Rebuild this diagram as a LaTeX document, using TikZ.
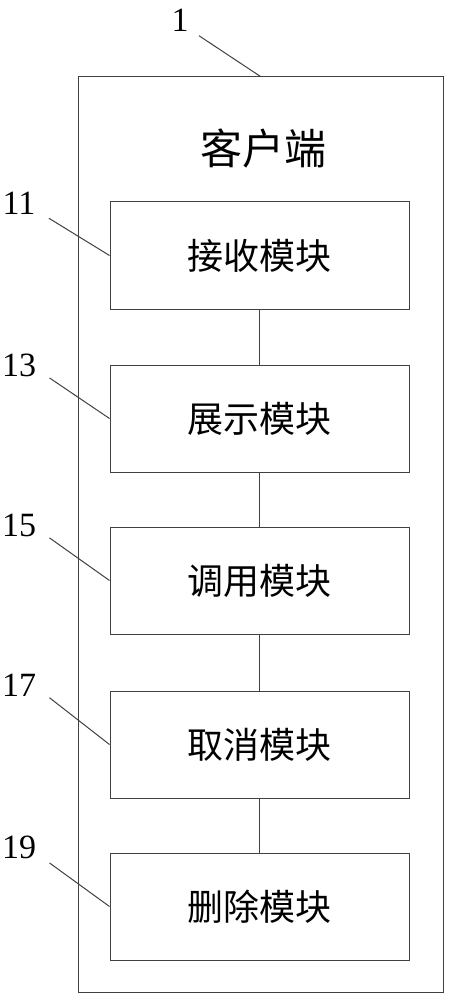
\documentclass[tikz,border=0pt]{standalone}
\usepackage{fontspec}
\setmainfont{Liberation Serif}
\newfontfamily\cjk{Noto Sans CJK SC}
\usetikzlibrary{positioning}

\begin{document}
\begin{tikzpicture}[x=1pt,y=-1pt,line width=1pt,draw=black!75,
  framenode/.style={rectangle,draw,inner sep=0pt,minimum width=365pt,minimum height=915pt},
  modnode/.style={rectangle,draw,inner sep=0pt,minimum width=299pt,minimum height=107pt,font=\cjk\fontsize{36}{40}\selectfont},
  titlenode/.style={inner sep=0pt,font=\cjk\fontsize{42}{46}\selectfont},
  numnode/.style={inner sep=0pt,font=\fontsize{34}{38}\selectfont}]

\useasboundingbox (0,0) rectangle (448,1000);

\node [framenode] (client) at (260.5,534.5) {};
\node [titlenode] (title) at (263,148) {客户端};

\node [modnode] (m11) at (259.5,255.5) {接收模块};
\node [modnode] (m13) at (259.5,418.5) {展示模块};
\node [modnode] (m15) at (259.5,580.5) {调用模块};
\node [modnode] (m17) at (259.5,744.5) {取消模块};
\node [modnode] (m19) at (259.5,906.5) {删除模块};

\node [numnode] (n1) at (180,20) {1};
\node [numnode] (n11) at (19,203.5) {11};
\node [numnode] (n13) at (19,365) {13};
\node [numnode] (n15) at (19,525) {15};
\node [numnode] (n17) at (19,685) {17};
\node [numnode] (n19) at (19,847) {19};

\draw (m11) to (m13);
\draw (m13) to (m15);
\draw (m15) to (m17);
\draw (m17) to (m19);

\draw ([shift={(10pt,-4pt)}]n1.south east) to (client.north);
\draw ([shift={(13pt,-3pt)}]n11.south east) to (m11.west);
\draw ([shift={(13pt,-1pt)}]n13.south east) to (m13.west);
\draw ([shift={(13pt,-1pt)}]n15.south east) to (m15.west);
\draw ([shift={(13pt,-1pt)}]n17.south east) to (m17.west);
\draw ([shift={(13pt,-4pt)}]n19.south east) to (m19.west);
\end{tikzpicture}
\end{document}
